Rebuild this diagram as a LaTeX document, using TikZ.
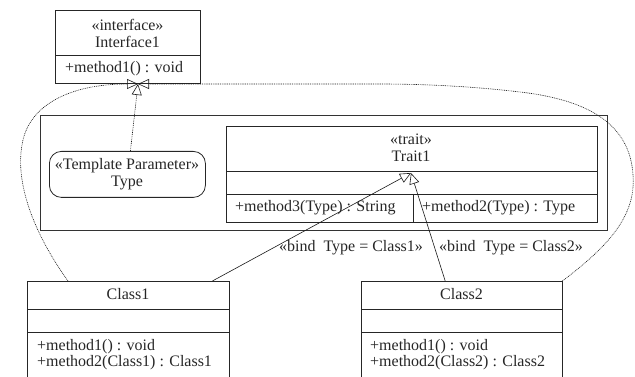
\documentclass[tikz,border=0pt]{standalone}
\usepackage{fontspec}
\setmainfont{Liberation Serif}
\usetikzlibrary{arrows.meta,calc}

\tikzset{
  ink/.style={draw=black!85, line width=0.8pt},
  umlbox/.style={ink, rectangle, inner sep=0pt, anchor=north west},
  frame/.style={rectangle, inner sep=0pt, anchor=north west},
  txt/.style={inner sep=0pt, font=\fontsize{16}{17}\selectfont, text=black!85},
  twoline/.style={txt, align=center},
  realize/.style={draw=black!90, line width=0.6pt, -{Triangle[open,length=11pt,width=10pt]}},
  tmpl/.style={realize, dash pattern=on 0.9pt off 0.9pt}
}

\begin{document}
\begin{tikzpicture}[x=1pt,y=-1pt]
\useasboundingbox (0,0) rectangle (635,377);

% Interface1
\node[umlbox, minimum width=145pt, minimum height=73pt] (iface) at (55,10) {};
\draw[ink] (iface.north west) ++(0,45) -- ++(145,0);
\node[twoline] (ifacename) at (127.5,33) {«interface»\\Interface1};
\node[txt, anchor=west] (ifaceop) at (65,69) {+method1() : void};
\coordinate (itip) at (138,84);

% package frame
\node[frame, draw=black!80, line width=1.3pt, minimum width=567pt, minimum height=115pt] (pkg) at (40,115) {};

% template parameter
\node[umlbox, rounded corners=12pt, minimum width=156pt, minimum height=46pt] (tparam) at (49,151) {};
\node[twoline] (tparamname) at (127,174) {«Template Parameter»\\Type};

% Trait1
\node[umlbox, minimum width=371pt, minimum height=96pt] (trait) at (226,126) {};
\draw[ink] (trait.north west) ++(0,45) -- ++(371,0);
\draw[ink] (trait.north west) ++(0,68) -- ++(371,0);
\draw[ink] (trait.north west) ++(187,68) -- ++(0,28);
\node[twoline] (traitname) at (411,148) {«trait»\\Trait1};
\node[txt, anchor=west] (traitop3) at (235,208) {+method3(Type) : String};
\node[txt, anchor=west] (traitop2) at (422,208) {+method2(Type) : Type};
\coordinate (ttip) at (411,173);

% Class1 (open at the bottom edge)
\node[frame, minimum width=202pt, minimum height=96pt] (class1) at (27,281) {};
\draw[ink] (class1.south west) |- (class1.north east) -- (class1.south east);
\draw[ink] (class1.north west) ++(0,28) -- ++(202,0);
\draw[ink] (class1.north west) ++(0,51) -- ++(202,0);
\node[txt] (class1name) at (128,294) {Class1};
\node[txt, anchor=west] (class1op1) at (37,347) {+method1() : void};
\node[txt, anchor=west] (class1op2) at (37,363) {+method2(Class1) : Class1};

% Class2 (open at the bottom edge)
\node[frame, minimum width=201pt, minimum height=96pt] (class2) at (361,281) {};
\draw[ink] (class2.south west) |- (class2.north east) -- (class2.south east);
\draw[ink] (class2.north west) ++(0,28) -- ++(201,0);
\draw[ink] (class2.north west) ++(0,51) -- ++(201,0);
\node[txt] (class2name) at (461.5,294) {Class2};
\node[txt, anchor=west] (class2op1) at (370,347) {+method1() : void};
\node[txt, anchor=west] (class2op2) at (370,363) {+method2(Class2) : Class2};

% bindings to the trait
\draw[realize] ($(class1.north east)+(-17,0)$) -- (ttip);
\draw[realize] ($(class2.north)+(-16.5,0)$) -- (ttip);
\node[txt] (bind1) at (351,248) {«bind\ \ Type = Class1»};
\node[txt] (bind2) at (511,248) {«bind\ \ Type = Class2»};

% realizations of Interface1
\draw[tmpl] ($(tparam.north)+(3,0)$) -- (itip);
\draw[tmpl] ($(class1.north west)+(41,0)$)
  .. controls (35,235) and (15,185) .. (22,145)
  .. controls (28,105) and (70,84) .. (itip);
\draw[tmpl] (class2.north east)
  .. controls (610,245) and (636,215) .. (633,175)
  .. controls (630,125) and (590,100) .. (520,92)
  .. controls (470,86) and (420,84) .. (380,84) -- (itip);
\end{tikzpicture}
\end{document}
